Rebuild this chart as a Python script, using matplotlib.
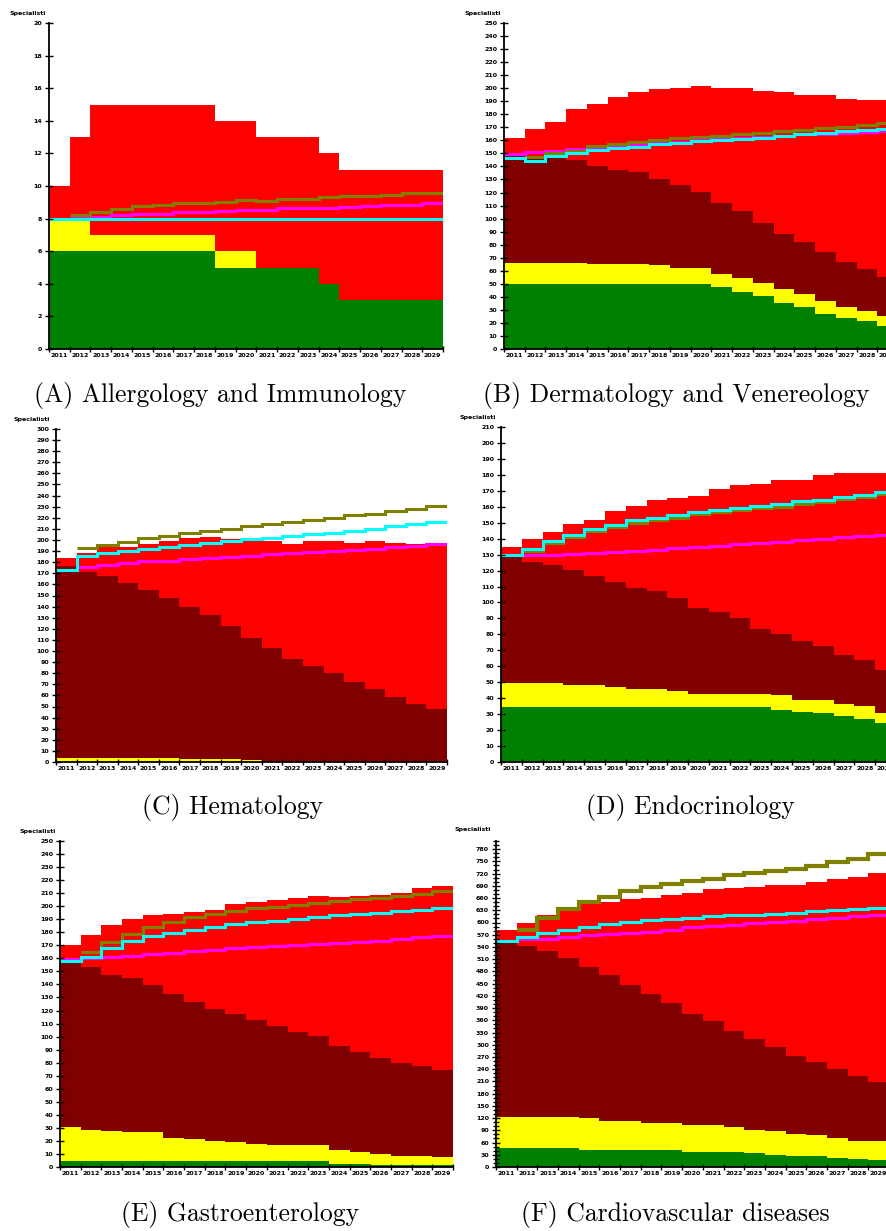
import numpy as np
import matplotlib
matplotlib.use("Agg")
from matplotlib import pyplot as plt

nan = np.nan
years = list(range(2011, 2030))

# (A) Allergology and Immunology - tops of each stacked layer
alg_green = [6, 6, 6, 6, 6, 6, 6, 6, 5, 5, 5, 5, 5, 4, 3, 3, 3, 3, 3]
alg_yellow = [8, 8, 7, 7, 7, 7, 7, 7, 6, 6, 5, 5, 5, 4, 3, 3, 3, 3, 3]
alg_maroon = [8, 8, 7, 7, 7, 7, 7, 7, 6, 6, 5, 5, 5, 4, 3, 3, 3, 3, 3]
alg_red = [10, 13, 15, 15, 15, 15, 15, 15, 14, 14, 13, 13, 13, 12, 11, 11, 11, 11, 11]
alg_magenta = [nan, 8.11, 8.11, 8.21, 8.27, 8.27, 8.38, 8.38, 8.46, 8.52, 8.52, 8.62, 8.62, 8.68, 8.7, 8.78, 8.85, 8.85, 8.95]
alg_olive = [nan, 8.25, 8.42, 8.58, 8.76, 8.85, 8.95, 8.97, 9.03, 9.13, 9.11, 9.19, 9.19, 9.3, 9.36, 9.36, 9.46, 9.54, 9.54]
alg_cyan = [8, 8, 8, 8, 8, 8, 8, 8, 8, 8, 8, 8, 8, 8, 8, 8, 8, 8, 8]

# (B) Dermatology and Venereology
derm_green = [49.5, 49.5, 49.5, 49.5, 49.5, 49.5, 49.5, 49.5, 49.5, 49.5, 47.5, 44, 40.5, 35, 32, 27, 24, 21.5, 18]
derm_yellow = [66, 66, 66, 66, 65, 65, 65, 64.5, 62, 62, 57.5, 54.5, 50.5, 46, 42, 36.5, 32, 29, 25.5]
derm_maroon = [150, 147, 147, 145, 140.5, 137, 136, 130, 125.5, 120.5, 112, 105.5, 97, 88.5, 82, 74.5, 67, 61, 55]
derm_red = [162, 169, 174, 184, 188, 193, 197, 199.5, 200.5, 201.5, 200.5, 200, 198, 197, 194.5, 194.5, 192, 191, 191]
derm_magenta = [149.5, 151, 152, 153.5, 155, 156, 157, 158, 159, 160, 161, 162, 162.5, 163.5, 164.5, 165, 165.5, 166.5, 167]
derm_olive = [nan, 147.5, 150.5, 152, 155.5, 157, 159, 160, 161.5, 162.5, 163.5, 164.5, 166, 167, 168, 169.5, 170.5, 172, 173.5]
derm_cyan = [146.5, 144, 148, 150, 152.5, 154, 155, 157, 158, 159.5, 160.5, 161, 162, 163.5, 165, 166, 167, 168, 169]

# (C) Hematology
hem_green = [0, 0, 0, 0, 0, 0, 0, 0, 0, 0, 0, 0, 0, 0, 0, 0, 0, 0, 0]
hem_yellow = [4, 4, 4, 4, 4, 4, 3, 3, 3, 1.5, 0, 0, 0, 0, 0, 0, 0, 0, 0]
hem_maroon = [176.5, 171, 167.5, 161, 155, 148, 140, 132.5, 122.5, 112, 102.5, 92.5, 86.5, 80, 72.5, 66, 59, 52.5, 47.5]
hem_red = [184, 188.5, 194, 194, 196, 199.5, 201.5, 202.5, 201, 200.5, 199, 196.5, 199, 199, 197.5, 199, 197.5, 196.5, 196.5]
hem_magenta = [nan, 176, 177.5, 179, 181, 181.5, 182.5, 183.5, 185, 186, 187.3, 188, 189, 190, 191, 192, 193.5, 194.5, 196]
hem_olive = [nan, 193, 195.4, 198.4, 201.4, 203.5, 205.9, 208.3, 210.1, 212.5, 214, 216.1, 217.6, 220, 222.1, 223.6, 226, 228.1, 231]
hem_cyan = [173, 185.5, 188.5, 190.3, 191.8, 193.6, 195.4, 197.5, 199, 200.5, 202, 203.5, 205, 206.5, 208, 210, 212.2, 214, 216.4]

# (D) Endocrinology
endo_green = [34.5, 34.5, 34.5, 34.5, 34.5, 34.5, 34.5, 34.5, 34.5, 34.5, 34.5, 34.5, 34.5, 32.4, 31.3, 30.7, 29, 27.2, 24.7]
endo_yellow = [49.5, 49.5, 49.5, 48, 48, 47, 46, 46, 44.3, 42.6, 42.6, 42.6, 42.6, 41.8, 38.9, 38.9, 36.6, 34.9, 30.7]
endo_maroon = [128.5, 125.4, 123.7, 120.1, 116.6, 113, 109.3, 107, 102.6, 96.5, 93.8, 90.3, 83.6, 80, 75.6, 72.9, 66.9, 63.7, 57.5]
endo_red = [134.8, 140, 144.2, 149.2, 151.9, 157.3, 160.5, 164.2, 165.7, 166.7, 170.9, 173.4, 174.3, 177, 177, 179.7, 181.4, 181.4, 181.4]
endo_magenta = [nan, 129.5, 130, 130.5, 131, 131.6, 132.3, 133.1, 133.9, 134.8, 135.6, 136.4, 137.1, 138.1, 138.9, 139.8, 141, 141.9, 142.3]
endo_olive = [nan, 132.2, 137, 141, 144.8, 147.3, 150, 151.7, 153.1, 155.2, 156.7, 157.7, 159, 160, 161.9, 162.9, 164.6, 166.1, 167.7]
endo_cyan = [129.8, 133.7, 138.5, 142.5, 146.3, 148.8, 151.5, 153.2, 154.6, 156.7, 158.2, 159.2, 160.5, 161.5, 163.4, 164.4, 166.1, 167.6, 169.2]

# (E) Gastroenterology
gastro_blue = [1, 1, 1, 1, 1, 1, 1, 1, 1, 1, 1, 1, 1, 1, 1, 1, 1, 1, 1]
gastro_green = [4.3, 4.3, 4.3, 4.3, 4.3, 4.3, 4.3, 4.3, 4.3, 4.3, 4.3, 4.3, 4.3, 2.6, 2.6, 1.3, 1.3, 1.3, 1.3]
gastro_yellow = [30.7, 28.7, 27.6, 26.6, 26.6, 22.3, 21.2, 20, 18.9, 17.9, 17.1, 17.1, 16.5, 12.8, 11.5, 9.7, 8.4, 8.4, 7.7]
gastro_maroon = [158.1, 153, 147.6, 144.6, 139.2, 132.8, 126.4, 121, 117.7, 112.6, 108.2, 103.9, 100.6, 93.1, 88, 83.9, 79.6, 77.5, 74.2]
gastro_red = [169.9, 178.1, 185.8, 190.1, 193.2, 194.2, 195.2, 197.3, 201.6, 202.9, 204.7, 206, 208, 207, 208, 208.5, 209.8, 213.7, 215.5]
gastro_magenta = [159.7, 160.2, 160.7, 161.7, 163, 164.3, 165.3, 166.3, 167.6, 168.9, 169.7, 170.2, 170.7, 171.4, 172.7, 173.5, 174.8, 176, 177.3]
gastro_olive = [nan, 164.5, 172.2, 178.4, 183.7, 188, 191.4, 194.2, 196.5, 198.6, 199.6, 201.1, 202.4, 203.7, 205.5, 206.5, 207.8, 209.3, 211.9]
gastro_cyan = [158.1, 161.2, 167.6, 173.2, 177.1, 179.1, 181.4, 184, 186, 187.6, 188.8, 190.1, 191.7, 192.9, 194, 195, 196, 197.3, 198.6]

# (F) Cardiovascular diseases
cardio_green = [45.7, 45.7, 45.7, 45.7, 41.6, 41, 41, 41, 41, 37.5, 37.5, 37.5, 35, 30.2, 27.7, 27.7, 21.2, 19.6, 16.3]
cardio_yellow = [122.4, 122.4, 122.4, 122.4, 119.1, 112.6, 112.6, 108.5, 108.5, 102, 102, 97.9, 91.4, 87.3, 81.6, 77.5, 70.2, 62.8, 62.8]
cardio_maroon = [554.8, 541.8, 529.5, 512.4, 491.2, 470, 445.5, 425.1, 403.1, 375.3, 357.4, 332.9, 315, 293.7, 273.3, 258.7, 241.5, 223.5, 209.7]
cardio_red = [581, 599, 619, 632, 645, 651, 657, 660, 667, 672, 682, 684, 686, 693, 693, 700, 707, 711, 722]
cardio_magenta = [nan, 558.9, 560.5, 563.8, 568.7, 571.2, 574.4, 577.7, 581.8, 589.1, 590.7, 594, 598, 601.3, 604.6, 608.7, 611.1, 615.2, 617.7]
cardio_olive = [nan, 581, 611, 632, 650, 663, 677, 687, 695, 702, 707, 716, 722, 726, 732, 738, 749, 756, 767]
cardio_cyan = [554.8, 564.6, 574.4, 581, 589.1, 596.4, 601.3, 606.2, 609.5, 610, 615.2, 617.7, 619.3, 621.7, 624.2, 628.3, 629.9, 632.3, 634.8]

W, H = 887, 1231
fig = plt.figure(figsize=(W / 100, H / 100), dpi=100)
edges = np.arange(2011, 2031)
tickfont = dict(fontsize=4.5, fontweight="bold")


def px_axes(x0, x1, ytop, ybot):
    return fig.add_axes([x0 / W, 1 - ybot / H, (x1 - x0) / W, (ybot - ytop) / H])


def draw(ax, layers, lines, ymax, ystep, yminor=None, olive_lw=2.2):
    # layers drawn from 0 up to each top, biggest first
    for top, col in layers:
        ax.stairs(top, edges, baseline=0, fill=True, color=col, lw=0)
    for vals, col, lw in lines:
        v = np.array(vals, dtype=float)
        i0 = int(np.argmax(~np.isnan(v)))
        ax.stairs(v[i0:], edges[i0:], baseline=None, color=col, lw=lw)
    ax.set_xlim(2011, 2030)
    ax.set_ylim(0, ymax)
    for s in ("top", "right"):
        ax.spines[s].set_visible(False)
    for s in ("left", "bottom"):
        ax.spines[s].set_linewidth(1.3)
    ax.set_xticks(edges)
    ax.set_xticklabels([])
    ax.set_xticks(np.array(years) + 0.5, minor=True)
    ax.set_xticklabels([str(y) for y in years], minor=True, **tickfont)
    ax.tick_params(axis="x", which="major", direction="inout", length=5, width=1)
    ax.tick_params(axis="x", which="minor", length=0, pad=3)
    yt = np.arange(0, ymax + 0.01, ystep)
    if ymax % ystep != 0:
        yt = yt[yt <= ymax]
    ax.set_yticks(yt)
    ax.set_yticklabels([str(int(t)) for t in yt], **tickfont)
    if yminor:
        ax.set_yticks(np.arange(0, ymax + 0.01, yminor), minor=True)
        ax.tick_params(axis="y", which="minor", direction="inout", length=5, width=1)
    ax.tick_params(axis="y", which="major", direction="inout", length=6, width=1, pad=2)


RED, MAROON, YELLOW, GREEN = "#ff0000", "#800000", "#ffff00", "#008000"
CYAN, MAGENTA, OLIVE, NAVY = "#00ffff", "#ff00ff", "#808000", "#000080"

panels = [
    # axes box in pixels, layers, lines, ymax, ystep, minor, ylabel pos, caption
    ((49, 443, 23, 349), [alg_red, alg_maroon, alg_yellow, alg_green], None,
     [alg_magenta, alg_olive, alg_cyan], 20, 2, None, (10, 13),
     (220, 402, "(A) Allergology and Immunology")),
    ((504, 898, 23, 349), [derm_red, derm_maroon, derm_yellow, derm_green], None,
     [derm_magenta, derm_olive, derm_cyan], 250, 10, None, (465, 13),
     (676, 402, "(B) Dermatology and Venereology")),
    ((56, 447, 429, 762), [hem_red, hem_maroon, hem_yellow, hem_green], None,
     [hem_magenta, hem_olive, hem_cyan], 300, 10, None, (14, 420),
     (233, 814, "(C) Hematology")),
    ((501, 896, 427, 762), [endo_red, endo_maroon, endo_yellow, endo_green], None,
     [endo_magenta, endo_olive, endo_cyan], 210, 10, None, (460, 418),
     (690, 814, "(D) Endocrinology")),
    ((60, 453, 841, 1167), [gastro_red, gastro_maroon, gastro_yellow, gastro_green], gastro_blue,
     [gastro_magenta, gastro_olive, gastro_cyan], 250, 10, None, (20, 831),
     (240, 1221, "(E) Gastroenterology")),
    ((496, 889, 841, 1167), [cardio_red, cardio_maroon, cardio_yellow, cardio_green], None,
     [cardio_magenta, cardio_olive, cardio_cyan], 800, 30, 10, (455, 830),
     (675, 1221, "(F) Cardiovascular diseases")),
]

for box, tops, blue, lns, ymax, ystep, minor, lab, cap in panels:
    ax = px_axes(*box)
    layers = list(zip(tops, [RED, MAROON, YELLOW, GREEN]))
    if blue is not None:
        layers.append((blue, NAVY))
    olw = 3.0 if ymax == 800 else 2.2
    lines = [(lns[0], MAGENTA, 2.2), (lns[1], OLIVE, olw), (lns[2], CYAN, 2.2)]
    draw(ax, layers, lines, ymax, ystep, minor)
    if ymax == 800:
        # labels only every 30 up to 780
        yt = np.arange(0, 781, 30)
        ax.set_yticks(yt)
        ax.set_yticklabels([str(t) for t in yt], **tickfont)
    fig.text(lab[0] / W, 1 - lab[1] / H, "Specialisti", ha="left", va="center",
             fontsize=4.5, fontweight="bold")
    fig.text(cap[0] / W, 1 - cap[1] / H, cap[2], ha="center", va="baseline",
             fontsize=18.5, fontfamily="cmr10")

fig.savefig("out.png", dpi=100)
